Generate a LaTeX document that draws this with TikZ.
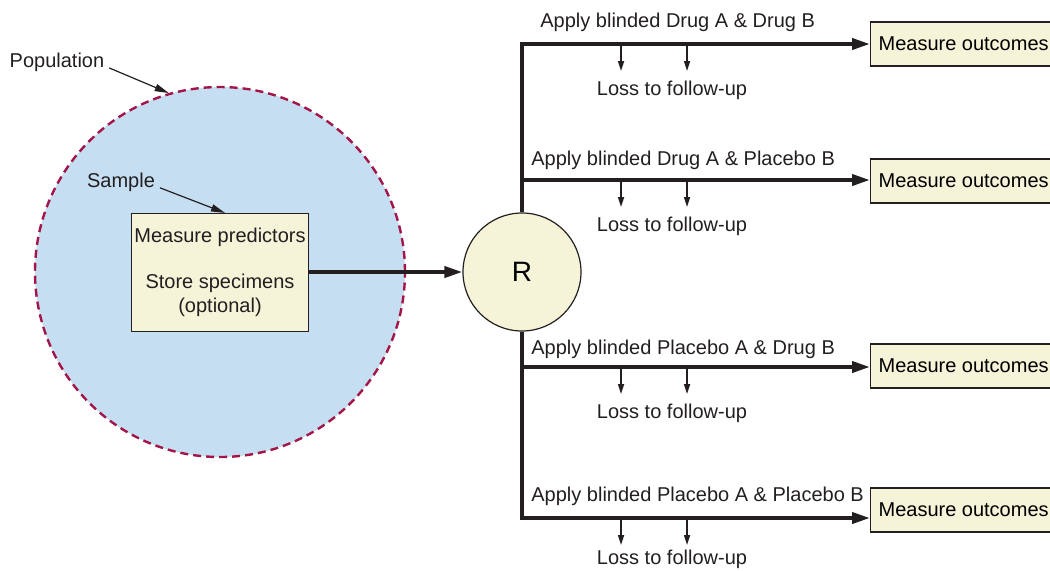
\documentclass[tikz,border=0pt]{standalone}
\usepackage{fontspec}
\setmainfont{Liberation Sans}
\usetikzlibrary{arrows.meta}
\definecolor{popblue}{RGB}{198,222,242}
\definecolor{cream}{RGB}{245,243,216}
\definecolor{popred}{RGB}{163,20,72}
\definecolor{ink}{RGB}{35,31,32}

\begin{document}
\begin{tikzpicture}[x=0.5pt,y=-0.5pt,line join=miter,font=\fontsize{10}{12}\selectfont,
  mainline/.style={draw=ink,line width=1.9pt},
  mainarrow/.style={mainline,-{Triangle[length=9pt,width=5.5pt]}},
  lossarrow/.style={draw=ink,line width=0.8pt,-{Triangle[length=5pt,width=3pt]}},
  callout/.style={draw=ink,line width=0.6pt,shorten <=2.5pt,-{Triangle[length=7pt,width=3.6pt]}},
  creambox/.style={draw=ink,line width=0.6pt,fill=cream},
  outbox/.style={creambox,anchor=west,minimum height=22pt,inner xsep=4pt},
  lbl/.style={text=ink,inner sep=0pt}]
\useasboundingbox (0,0) rectangle (1050,570);
\clip (0,0) rectangle (1050,570);
% population and sample
\node[circle,fill=popblue,draw=popred,line width=1.2pt,dash pattern=on 4pt off 2.5pt,
  minimum size=185pt,inner sep=0pt] (pop) at (220,272) {};
\node[creambox,minimum width=88.5pt,minimum height=59pt,inner xsep=1.2pt,align=center,text=ink]
  (sample) at (220,272.5) {Measure predictors\\[11pt]Store specimens\\(optional)};
\node[lbl] (poplbl) at (57,62) {Population};
\node[lbl] (smplbl) at (121,182) {Sample};
\draw[callout] ([yshift=-2pt]poplbl.east) -- (pop.106);
\draw[callout] ([yshift=-2pt]smplbl.east) -- ([xshift=2.5pt]sample.north);
% randomization
\node[circle,creambox,minimum size=59pt,inner sep=0pt,font=\fontsize{14}{16}\selectfont]
  (R) at (522,272) {R};
\draw[mainarrow] (sample.east|-R) -- (R.west);
% branches
\coordinate (b1) at (522,44);
\coordinate (b2) at (522,180);
\coordinate (b3) at (522,367);
\coordinate (b4) at (522,518);
\node[outbox] (out1) at (870,44) {Measure outcomes};
\node[outbox] (out2) at (870,181) {Measure outcomes};
\node[outbox] (out3) at (870,366) {Measure outcomes};
\node[outbox] (out4) at (870,510) {Measure outcomes};
\draw[mainarrow] (R.north) |- (b1-|out1.west);
\draw[mainarrow] (R.south) |- (b4-|out4.west);
\draw[mainarrow] (b2) -- (b2-|out2.west);
\draw[mainarrow] (b3) -- (b3-|out3.west);
\foreach \i/\txt/\dx/\dy/\ly in {1/{Apply blinded Drug A \& Drug B}/18/-17/46,
    2/{Apply blinded Drug A \& Placebo B}/9/-15/46,
    3/{Apply blinded Placebo A \& Drug B}/9/-13/46,
    4/{Apply blinded Placebo A \& Placebo B}/9/-17/41}{
  \path (b\i) ++(\dx,\dy) node[lbl,anchor=base west] (arm\i) {\txt};
  \draw[lossarrow] (b\i) ++(99,1) -- ++(0,26);
  \draw[lossarrow] (b\i) ++(165,1) -- ++(0,26);
  \path (b\i) ++(150,\ly) node[lbl] (loss\i) {Loss to follow-up};
}
\end{tikzpicture}
\end{document}
